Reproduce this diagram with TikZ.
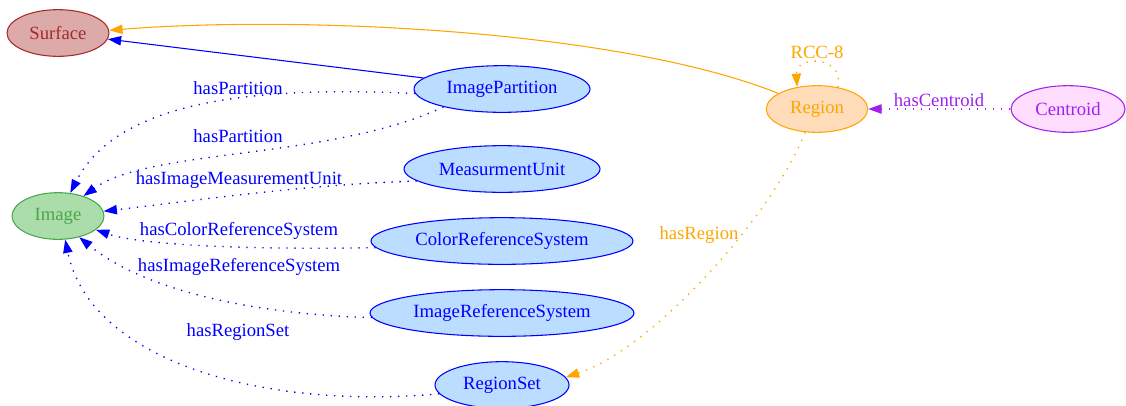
\documentclass[tikz,border=0pt]{standalone}
\usepackage{fontspec}
\setmainfont{Liberation Serif}
\usetikzlibrary{shapes.geometric,arrows.meta}
\definecolor{cblue}{HTML}{0000FF}
\definecolor{fblue}{HTML}{BBDDFF}
\definecolor{cred}{HTML}{A52A2A}
\definecolor{fred}{HTML}{DDAAAA}
\definecolor{cgreen}{HTML}{4CA64C}
\definecolor{fgreen}{HTML}{AADDAA}
\definecolor{corange}{HTML}{FFA500}
\definecolor{forange}{HTML}{FFDDBB}
\definecolor{cpurple}{HTML}{A020F0}
\definecolor{fpurple}{HTML}{FFDDFF}
\tikzset{
  base/.style={ellipse, inner sep=0pt, minimum height=35pt, line width=0.8pt, font=\fontsize{14}{16}\selectfont},
  bluenode/.style={base, draw=cblue, fill=fblue, text=cblue},
  surfnode/.style={base, draw=cred, fill=fred, text=cred},
  imgnode/.style={base, draw=cgreen, fill=fgreen, text=cgreen},
  regnode/.style={base, draw=corange, fill=forange, text=corange},
  cennode/.style={base, draw=cpurple, fill=fpurple, text=cpurple},
  lbl/.style={inner sep=0pt, font=\fontsize{14}{16}\selectfont},
  edge/.style={line width=0.8pt, -{Triangle[length=10pt,width=7pt]}},
  dotline/.style={edge, line width=1pt, dash pattern=on 1pt off 5pt},
}
\begin{document}
\begin{tikzpicture}[x=0.75pt,y=-0.75pt]
\useasboundingbox (0,0) rectangle (1126,405);
% nodes
\node[surfnode, minimum width=76.5pt] (Surf) at (58,33) {Surface};
\node[imgnode, minimum width=69pt] (Img) at (58,216) {Image};
\node[bluenode, minimum width=132pt] (IP) at (502,89) {ImagePartition};
\node[bluenode, minimum width=147pt] (MU) at (502,169) {MeasurmentUnit};
\node[bluenode, minimum width=196.5pt] (CRS) at (502,241) {ColorReferenceSystem};
\node[bluenode, minimum width=198pt] (IRS) at (502,313) {ImageReferenceSystem};
\node[bluenode, minimum width=100.5pt] (RS) at (502,385) {RegionSet};
\node[regnode, minimum width=76pt] (Reg) at (817,109) {Region};
\node[cennode, minimum width=85.5pt] (Cen) at (1068,109) {Centroid};
% edges
\draw[edge, cblue] (IP.172) -- (Surf.353);
\draw[edge, corange] (Reg.158) .. controls (620,30) and (300,15) .. (Surf.3);
\draw[dotline, cblue] (IP.183) .. controls (240,85) and (115,105) .. (Img.62);
\draw[dotline, cblue] (IP.197) .. controls (330,160) and (150,148) .. (Img.38);
\draw[dotline, cblue] (MU.188) .. controls (300,185) and (200,200) .. (Img.6);
\draw[dotline, cblue] (CRS.183) .. controls (250,250) and (140,245) .. (Img.340);
\draw[dotline, cblue] (IRS.182) .. controls (270,315) and (150,295) .. (Img.315);
\draw[dotline, cblue] (RS.188) .. controls (260,410) and (90,360) .. (Img.287);
\draw[dotline, corange] (Reg.243) .. controls (770,220) and (650,350) .. (RS.7);
\draw[dotline, corange] (Reg.46) .. controls (845,55) and (795,55) .. (Reg.132);
\draw[dotline, cpurple] (Cen.west) -- (Reg.east);
% labels
\node[lbl, text=cblue] (l1) at (238,88) {hasPartition};
\node[lbl, text=cblue] (l2) at (238,136) {hasPartition};
\node[lbl, text=cblue] (l3) at (239,180) {hasImageMeasurementUnit};
\node[lbl, text=cblue] (l4) at (239,231) {hasColorReferenceSystem};
\node[lbl, text=cblue] (l5) at (239,267) {hasImageReferenceSystem};
\node[lbl, text=cblue] (l6) at (238,332) {hasRegionSet};
\node[lbl, text=corange] (l7) at (699,235) {hasRegion};
\node[lbl, text=corange] (l8) at (817,52) {RCC-8};
\node[lbl, text=cpurple] (l9) at (939,100) {hasCentroid};
\end{tikzpicture}
\end{document}
